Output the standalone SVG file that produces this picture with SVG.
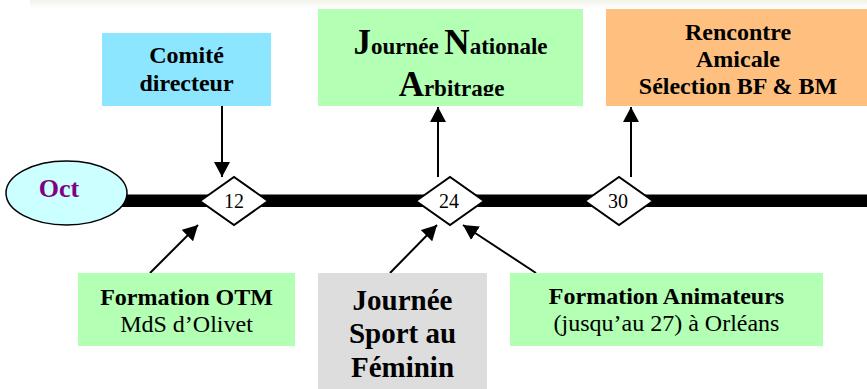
<svg xmlns="http://www.w3.org/2000/svg" width="867" height="389" viewBox="0 0 867 389">
  <defs>
    <linearGradient id="band" x1="0" y1="0" x2="0" y2="1">
      <stop offset="0" stop-color="#F1F2E8"/>
      <stop offset="1" stop-color="#FFFFFF"/>
    </linearGradient>
    <marker id="ah" viewBox="0 0 15 16" refX="15" refY="8" markerWidth="15" markerHeight="16" markerUnits="userSpaceOnUse" orient="auto">
      <path d="M0,0 L15,8 L0,16 z" fill="#000"/>
    </marker>
    <clipPath id="jnaClip">
      <rect x="318" y="9" width="265" height="87"/>
    </clipPath>
  </defs>
  <style>
    .t { font-family: "Liberation Serif", "Times New Roman", serif; fill: #000; text-anchor: middle; }
    .b { font-weight: bold; }
    .s23 { font-size: 24px; }
    .conn { stroke: #000; stroke-width: 2; fill: none; }
    .dia { fill: #fff; stroke: #000; stroke-width: 2; }
    .num { font-family: "Liberation Serif", "Times New Roman", serif; font-size: 20px; text-anchor: middle; fill: #000; }
  </style>
  <rect width="867" height="389" fill="#fff"/>
  <rect x="30" y="0" width="837" height="8" fill="url(#band)"/>

  <g id="timeline">
    <rect x="110" y="194.5" width="757" height="12.5" fill="#000"/>
  </g>

  <g id="connectors">
    <path class="conn" d="M222,106 L222,177" marker-end="url(#ah)"/>
    <path class="conn" d="M438,177 L438,107" marker-end="url(#ah)"/>
    <path class="conn" d="M631,177 L631,107" marker-end="url(#ah)"/>
    <path class="conn" d="M150,273 L198,225" marker-end="url(#ah)"/>
    <path class="conn" d="M390,273 L437,225" marker-end="url(#ah)"/>
    <path class="conn" d="M536,273 L463,225" marker-end="url(#ah)"/>
  </g>

  <g id="oct">
    <ellipse cx="66.5" cy="193" rx="60.5" ry="32" fill="#CCFFFF" stroke="#000" stroke-width="1.5"/>
    <text class="t b" x="59" y="197" font-size="26" style="fill:#800080">Oct</text>
  </g>

  <g id="d12">
    <polygon class="dia" points="200,201 234,177 268,201 234,225"/>
    <text class="num" x="234" y="208">12</text>
  </g>
  <g id="d24">
    <polygon class="dia" points="416,201 450,177 484,201 450,225"/>
    <text class="num" x="449" y="208">24</text>
  </g>
  <g id="d30">
    <polygon class="dia" points="585,201 619,177 653,201 619,225"/>
    <text class="num" x="618" y="208">30</text>
  </g>

  <g id="comite">
    <rect x="102" y="33" width="169" height="73" fill="#8CE6FF"/>
    <text class="t b s23" x="186.5" y="63">Comité</text>
    <text class="t b s23" x="186.5" y="91">directeur</text>
  </g>

  <g id="journee-nationale">
    <rect x="318" y="9" width="265" height="97" fill="#B3FFB3"/>
    <g clip-path="url(#jnaClip)">
      <text class="t b" x="450.5" y="54" font-size="23"><tspan font-size="35">J</tspan>ournée <tspan font-size="35">N</tspan>ationale</text>
      <text class="t b" x="451.5" y="96" font-size="23"><tspan font-size="35">A</tspan>rbitrage</text>
    </g>
  </g>

  <g id="rencontre">
    <rect x="606" y="9" width="261" height="97" fill="#FFC07F"/>
    <text class="t b s23" x="738" y="40">Rencontre</text>
    <text class="t b s23" x="738" y="67">Amicale</text>
    <text class="t b s23" x="738" y="94">Sélection BF &amp; BM</text>
  </g>

  <g id="formation-otm">
    <rect x="78" y="273" width="217" height="73" fill="#B3FFB3"/>
    <text class="t b s23" x="186.5" y="305">Formation OTM</text>
    <text class="t s23" x="186.5" y="332">MdS d’Olivet</text>
  </g>

  <g id="journee-sport">
    <rect x="318" y="273" width="169" height="116" fill="#DDDDDD"/>
    <text class="t b" x="402.5" y="310" font-size="29">Journée</text>
    <text class="t b" x="402.5" y="343" font-size="29">Sport au</text>
    <text class="t b" x="402.5" y="377" font-size="29">Féminin</text>
  </g>

  <g id="formation-animateurs">
    <rect x="510" y="273" width="313" height="73" fill="#B3FFB3"/>
    <text class="t b s23" x="666.5" y="304">Formation Animateurs</text>
    <text class="t s23" x="666.5" y="331">(jusqu’au 27) à Orléans</text>
  </g>
</svg>
